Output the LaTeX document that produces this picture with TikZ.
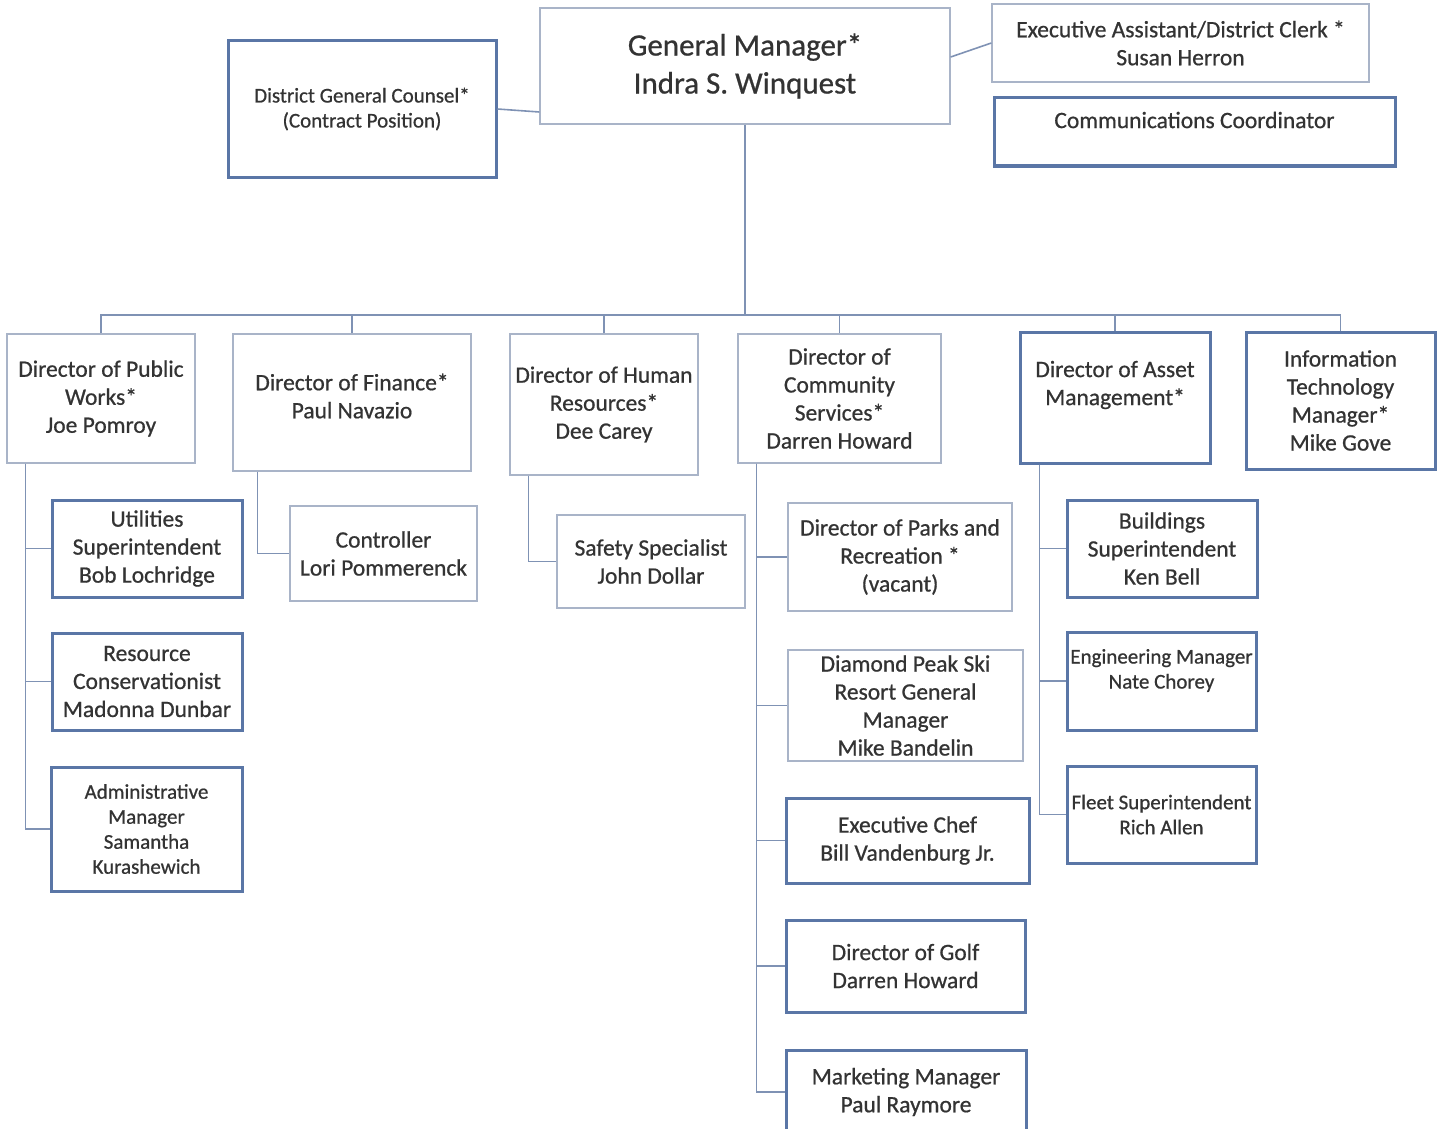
\documentclass[tikz,border=0pt]{standalone}
\usepackage{fontspec}
\setmainfont{Carlito}[UprightFeatures={FakeBold=0.7}]
\definecolor{ink}{HTML}{333333}
\definecolor{thinblue}{HTML}{A9B4C8}
\definecolor{deepblue}{HTML}{5A76A6}
\definecolor{linkblue}{HTML}{7F92B4}
\tikzset{
  thinbox/.style={draw=thinblue, line width=1.3pt, fill=white, inner sep=0pt,
    align=center, text=ink, font=\fontsize{23.5}{28}\selectfont},
  thickbox/.style={thinbox, draw=deepblue, line width=3pt},
  smalltext/.style={font=\fontsize{21}{25}\selectfont},
  link/.style={draw=linkblue, line width=1.6pt},
  every label/.style={align=center, text=ink, font=\fontsize{23.5}{28}\selectfont}
}
\begin{document}
\begin{tikzpicture}[x=1pt,y=-1pt]
  \useasboundingbox (0,0) rectangle (1443,1129);

  % top row
  \node[thinbox, minimum width=410, minimum height=116, font=\fontsize{31}{38}\selectfont]
    (gm) at (745,66) {General Manager*\\Indra S. Winquest};
  \node[thickbox, smalltext, minimum width=268, minimum height=136]
    (counsel) at (362,109) {District General Counsel*\\(Contract Position)};
  \node[thinbox, minimum width=377, minimum height=78]
    (clerk) at (1180.5,43) {Executive Assistant/District Clerk *\\Susan Herron};
  \node[thickbox, minimum width=401, minimum height=68,
    label={[yshift=12]center:Communications Coordinator}]
    (comm) at (1194.5,132) {};

  \draw[link] (counsel.east) -- ([yshift=-46]gm.west);
  \draw[link] ([yshift=9]gm.east) -- (clerk.west);

  % directors
  \coordinate (bus) at (745,315);
  \node[thinbox, minimum width=188, minimum height=129]
    (works) at (101,398.5) {Director of Public\\Works*\\Joe Pomroy};
  \node[thinbox, minimum width=238, minimum height=137,
    label={[yshift=6.5]center:Director of Finance*\\Paul Navazio}]
    (finance) at (352,402.5) {};
  \node[thinbox, minimum width=188, minimum height=141]
    (hr) at (604,404.5) {Director of Human\\Resources*\\Dee Carey};
  \node[thinbox, minimum width=203, minimum height=129]
    (community) at (839.5,398.5) {Director of\\Community\\Services*\\Darren Howard};
  \node[thickbox, minimum width=190, minimum height=131,
    label={[yshift=12.5]center:Director of Asset\\Management*}]
    (asset) at (1115,397.5) {};
  \node[thickbox, minimum width=189, minimum height=137]
    (itmgr) at (1340.5,400.5) {Information\\Technology\\Manager*\\Mike Gove};

  \draw[link] (gm.south) -- (bus);
  \foreach \d in {works,finance,hr,community,asset,itmgr}
    \draw[link] (\d.north) |- (bus);

  % public works
  \node[thickbox, minimum width=190, minimum height=97]
    (utilities) at (147,548.5) {Utilities\\Superintendent\\Bob Lochridge};
  \node[thickbox, minimum width=190, minimum height=97]
    (conserv) at (147,681.5) {Resource\\Conservationist\\Madonna Dunbar};
  \node[thickbox, smalltext, minimum width=191, minimum height=124]
    (admin) at (146.5,829) {Administrative\\Manager\\Samantha\\Kurashewich};
  \foreach \s in {utilities,conserv,admin}
    \draw[link] ([xshift=19]works.south west) |- (\s.west);

  % finance, hr
  \node[thinbox, minimum width=187, minimum height=95]
    (controller) at (383.5,553.5) {Controller\\Lori Pommerenck};
  \draw[link] ([xshift=25]finance.south west) |- (controller.west);
  \node[thinbox, minimum width=188, minimum height=93]
    (safety) at (651,561.5) {Safety Specialist\\John Dollar};
  \draw[link] ([xshift=19]hr.south west) |- (safety.west);

  % community services
  \node[thinbox, minimum width=224, minimum height=108]
    (parks) at (900,557) {Director of Parks and\\Recreation *\\(vacant)};
  \node[thinbox, minimum width=235, minimum height=111]
    (ski) at (905.5,705.5) {Diamond Peak Ski\\Resort General\\Manager\\Mike Bandelin};
  \node[thickbox, minimum width=243, minimum height=85]
    (chef) at (907.5,840.5) {Executive Chef\\Bill Vandenburg Jr.};
  \node[thickbox, minimum width=239, minimum height=92]
    (golf) at (905.5,966) {Director of Golf\\Darren Howard};
  \node[thickbox, minimum width=240, minimum height=84,
    label={[yshift=0]center:Marketing Manager\\Paul Raymore}]
    (marketing) at (906,1092) {};
  \foreach \s in {parks,ski,chef,golf,marketing}
    \draw[link] ([xshift=19]community.south west) |- (\s.west);

  % asset management
  \node[thickbox, minimum width=190, minimum height=97]
    (buildings) at (1162,548.5) {Buildings\\Superintendent\\Ken Bell};
  \node[thickbox, smalltext, minimum width=189, minimum height=98,
    label={[yshift=10.5, smalltext]center:Engineering Manager\\Nate Chorey}]
    (engineer) at (1161.5,681) {};
  \node[thickbox, smalltext, minimum width=189, minimum height=97]
    (fleet) at (1161.5,814.5) {Fleet Superintendent\\Rich Allen};
  \foreach \s in {buildings,engineer,fleet}
    \draw[link] ([xshift=21]asset.south west) |- (\s.west);
\end{tikzpicture}
\end{document}
